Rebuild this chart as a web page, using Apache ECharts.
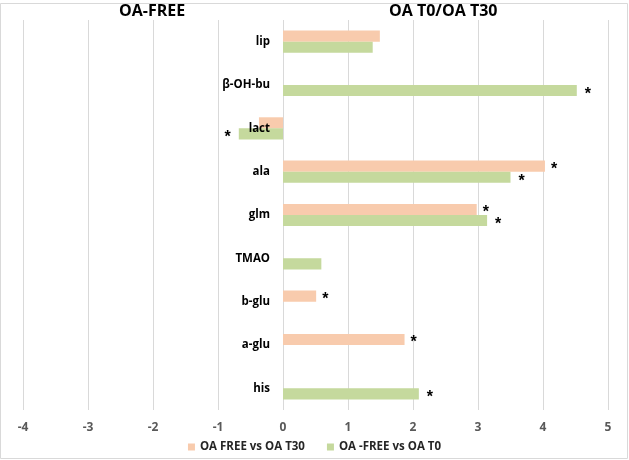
<!DOCTYPE html>
<html>
<head>
<meta charset="utf-8">
<script src="https://cdn.jsdelivr.net/npm/echarts@6/dist/echarts.min.js"></script>
<style>
	html, body { margin:0; padding:0; background:#fff; }
	#main { width:629px; height:460px; }
</style>
</head>
<body>
<div id="main"></div>
<script>
// categories top to bottom
var categories = ['lip', 'β-OH-bu', 'lact', 'ala', 'glm', 'TMAO', 'b-glu', 'a-glu', 'his'];
var seriesNames = ['OA FREE vs OA T30', 'OA -FREE vs OA T0'];
var t30Values = [1.49, 0, -0.37, 4.03, 2.98, 0, 0.51, 1.87, 0];
var t0Values = [1.38, 4.52, -0.68, 3.50, 3.14, 0.59, 0, 0, 2.09];
// significance marks (*)
var t30Sig = [false, false, false, true, true, false, true, true, false];
var t0Sig = [false, true, true, true, true, false, false, false, true];
var xTicks = [-4, -3, -2, -1, 0, 1, 2, 3, 4, 5];

function barData(values, sig) {
	return values.map(function (v, i) {
		return {
			value: v,
			label: { show: sig[i], position: v < 0 ? 'left' : 'right' }
		};
	});
}

var chart = echarts.init(document.getElementById('main'));

var option = {
	animation: false,
	graphic: [
		{ type: 'rect', shape: { x: 0.5, y: 3.5, width: 627, height: 455 }, style: { fill: 'none', stroke: '#d9d9d9', lineWidth: 1 }, z: -1 },
		{ type: 'text', left: 119, top: 3, style: { text: 'OA-FREE', font: 'bold 16px "Open Sans", Lato, sans-serif', fill: '#000' } },
		{ type: 'text', left: 389, top: 3, style: { text: 'OA T0/OA T30', font: 'bold 16px "Open Sans", Lato, sans-serif', fill: '#000' } }
	],
	grid: { left: 23, right: 21, top: 20, bottom: 50, outerBoundsMode: 'none' },
	legend: {
		data: seriesNames,
		bottom: 2,
		left: 'center',
		itemWidth: 7,
		itemHeight: 7,
		itemGap: 22,
		icon: 'rect',
		textStyle: { fontFamily: 'Open Sans', fontWeight: 'bold', fontSize: 11.5, color: '#262626' }
	},
	xAxis: {
		type: 'value',
		min: xTicks[0],
		max: xTicks[xTicks.length - 1],
		interval: 1,
		axisLine: { show: false },
		axisTick: { show: false },
		splitLine: { lineStyle: { color: '#d9d9d9', width: 1 } },
		axisLabel: { color: '#595959', fontFamily: 'Open Sans', fontWeight: 'bold', fontSize: 12, margin: 12 }
	},
	yAxis: {
		type: 'category',
		data: categories,
		inverse: true,
		z: 5,
		axisLine: { show: false },
		axisTick: { show: false },
		// labels sit just left of the zero line, as in the original
		axisLabel: { color: '#000', fontFamily: 'Open Sans', fontWeight: 'bold', fontSize: 11.5, margin: -247 }
	},
	series: [
		{
			name: seriesNames[0],
			type: 'bar',
			barGap: '0%',
			barCategoryGap: '49%',
			itemStyle: { color: '#f8cbad' },
			label: { formatter: '*', distance: 6, fontSize: 16, fontWeight: 'bold', color: '#000', offset: [0, 3] },
			data: barData(t30Values, t30Sig)
		},
		{
			name: seriesNames[1],
			type: 'bar',
			itemStyle: { color: '#c5d99d' },
			label: { formatter: '*', distance: 8, fontSize: 16, fontWeight: 'bold', color: '#000', offset: [0, 4] },
			data: barData(t0Values, t0Sig)
		}
	]
};

chart.setOption(option);
</script>
</body>
</html>
